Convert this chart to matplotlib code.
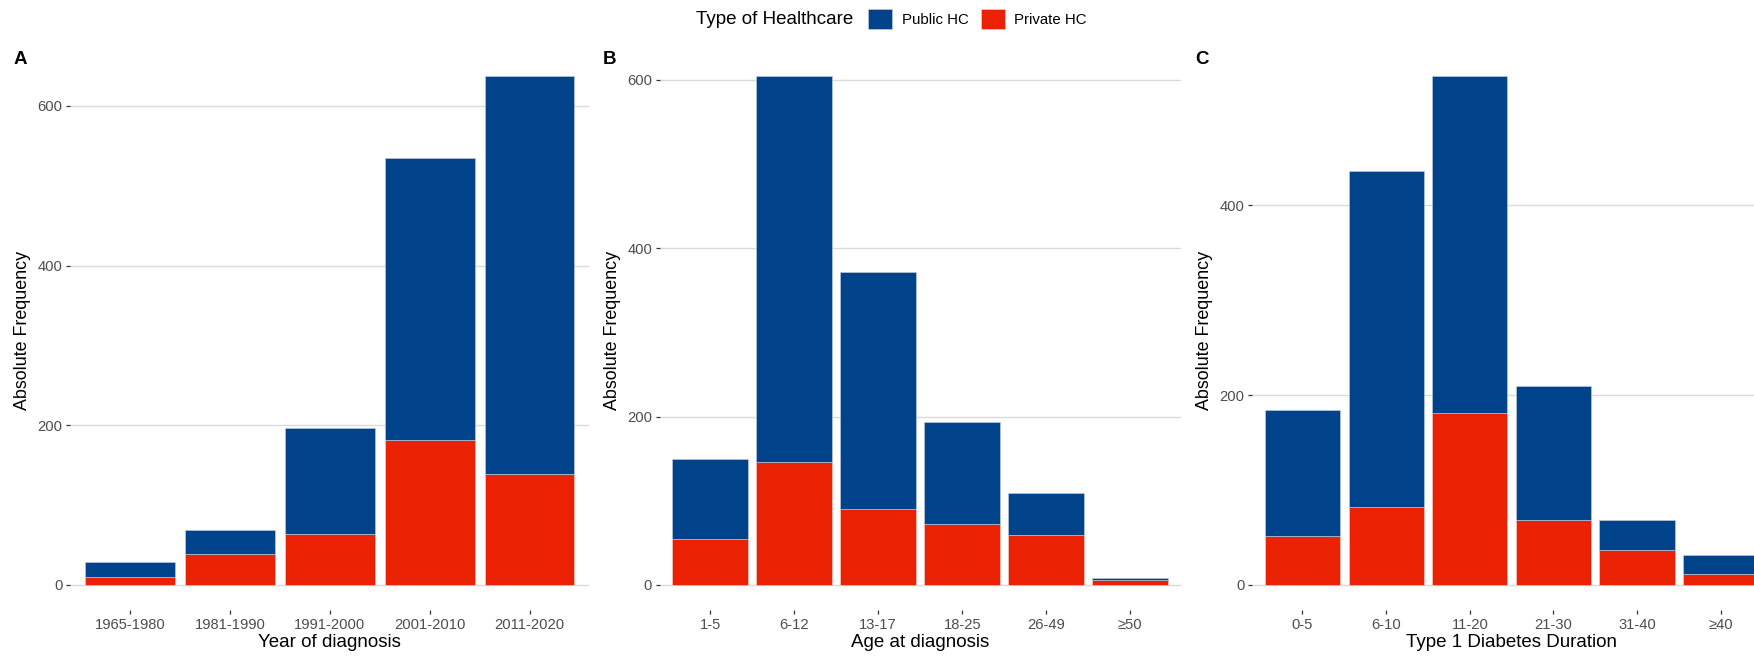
import matplotlib
matplotlib.use("Agg")
import matplotlib.pyplot as plt
from matplotlib.patches import Patch
import numpy as np

plt.rcParams['font.family'] = ['Liberation Sans', 'DejaVu Sans']

# panel A - year of diagnosis
years = ["1965-1980", "1981-1990", "1991-2000", "2001-2010", "2011-2020"]
year_private = [10, 39, 64, 181, 139]
year_public = [19, 30, 132, 354, 498]

# panel B - age at diagnosis
ages = ["1-5", "6-12", "13-17", "18-25", "26-49", "≥50"]
age_private = [55, 146, 90, 73, 59, 6]
age_public = [95, 458, 282, 120, 50, 2]

# panel C - diabetes duration
durations = ["0-5", "6-10", "11-20", "21-30", "31-40", "≥40"]
dur_private = [52, 82, 181, 69, 37, 12]
dur_public = [132, 354, 355, 141, 31, 20]

blue = "#01438B"
red = "#EA2102"

W, H = 1754, 656
fig = plt.figure(figsize=(W / 100, H / 100), dpi=100)

panels = [
    ("A", years, year_private, year_public, "Year of diagnosis", [0, 200, 400, 600], (70.3, 589.4)),
    ("B", ages, age_private, age_public, "Age at diagnosis", [0, 200, 400, 600], (659.8, 1180.6)),
    ("C", durations, dur_private, dur_public, "Type 1 Diabetes Duration", [0, 200, 400], (1252.3, 1771.0)),
]

top_px, bot_px = 51.0, 610.4

for letter, cats, priv, pub, xlabel, yticks, (x0, x1) in panels:
    ax = fig.add_axes([x0 / W, 1 - bot_px / H, (x1 - x0) / W, (bot_px - top_px) / H])
    x = np.arange(len(cats))
    priv = np.array(priv)
    pub = np.array(pub)
    ax.bar(x, priv, width=0.9, color=red, edgecolor="#f4d6d0", linewidth=0.4, zorder=2)
    ax.bar(x, pub, width=0.9, bottom=priv, color=blue, edgecolor="#c8cde0", linewidth=0.4, zorder=2)
    ymax = (priv + pub).max()
    ax.set_ylim(-0.05 * ymax, 1.05 * ymax)
    ax.set_xlim(-0.6, len(cats) - 0.4)
    ax.set_xticks(x)
    ax.set_xticklabels(cats)
    ax.set_yticks(yticks)
    ax.yaxis.grid(True, color="#DADADA", linewidth=1.0)
    ax.set_axisbelow(True)
    for s in ax.spines.values():
        s.set_visible(False)
    ax.tick_params(axis="both", length=3, width=0.9, color="#333333",
                   labelsize=10.6, labelcolor="#4D4D4D", pad=2.5)
    ax.set_xlabel(xlabel, fontsize=13.5, labelpad=1.5)
    ax.set_ylabel("Absolute Frequency", fontsize=12.9, labelpad=4.5)
    fig.text((x0 - 57) / W, 1 - 59 / H, letter, fontsize=13.5, fontweight="bold", va="center", ha="left")

fig.text(696 / W, 1 - 19 / H, "Type of Healthcare", fontsize=13.5, va="center", ha="left")
handles = [Patch(facecolor=blue, edgecolor="#c8cde0", linewidth=0.4),
           Patch(facecolor=red, edgecolor="#f4d6d0", linewidth=0.4)]
fig.legend(handles, ["Public HC", "Private HC"], loc="center left",
           bbox_to_anchor=(868 / W, 1 - 19 / H), ncol=2, frameon=False,
           fontsize=10.8, handlelength=1.6, handleheight=1.6,
           handletextpad=0.65, columnspacing=0.8, borderpad=0, borderaxespad=0)

fig.savefig("out.png", dpi=100, facecolor="white")
